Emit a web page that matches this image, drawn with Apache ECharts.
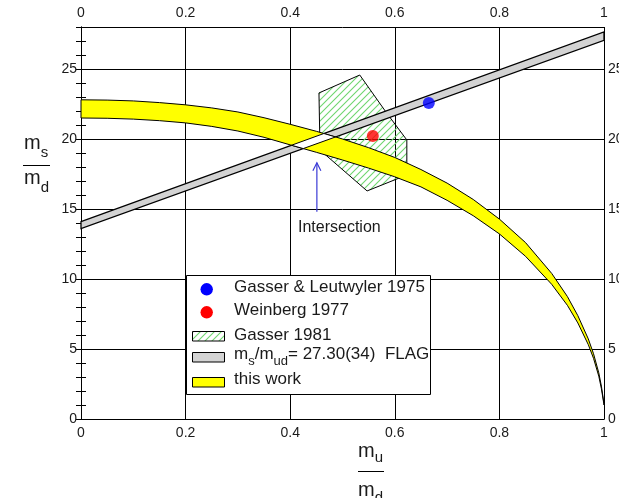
<!DOCTYPE html>
<html>
<head>
<meta charset="utf-8">
<script src="https://cdn.jsdelivr.net/npm/echarts@6/dist/echarts.min.js"></script>
<style>
html, body { margin: 0; padding: 0; background: #fff; }
#chart { width: 619px; height: 498px; }
</style>
</head>
<body>
<div id="chart"></div>
<script>
// Quark mass ratio plane: m_s/m_d against m_u/m_d

// "this work" band (upper and lower edge)
const ellipseX     = [0, 0.05, 0.1, 0.15, 0.2, 0.25, 0.3, 0.35, 0.4, 0.45, 0.5, 0.55, 0.6, 0.65, 0.7, 0.75, 0.8, 0.85, 0.9, 0.93, 0.95, 0.97, 0.98, 0.99, 0.995, 1.0];
const ellipseUpper = [22.80, 22.78, 22.72, 22.60, 22.44, 22.22, 21.93, 21.52, 21.05, 20.55, 20.00, 19.38, 18.68, 17.82, 16.85, 15.68, 14.28, 12.60, 10.40, 8.75, 7.38, 5.72, 4.66, 3.30, 2.35, 1.10];
const ellipseLower = [21.50, 21.48, 21.42, 21.31, 21.15, 20.90, 20.57, 20.12, 19.58, 19.05, 18.50, 17.92, 17.30, 16.58, 15.62, 14.52, 13.22, 11.62, 9.62, 8.12, 6.86, 5.31, 4.33, 3.06, 2.17, 1.00];

// FLAG band m_s/m_ud = 27.30(34)
const flagX     = [0, 1];
const flagLower = [13.60, 27.05];
const flagUpper = [14.10, 27.65];

// Gasser 1981 region
const gasserX = [0.455, 0.533, 0.583, 0.623, 0.623, 0.547, 0.457];
const gasserY = [23.29, 24.57, 21.93, 19.93, 17.43, 16.29, 19.21];

// Single estimates
const leutwylerPoint = [0.665, 22.57];
const weinbergPoint  = [0.558, 20.21];

// Arrow marking the band crossing
const arrowX = 0.451;
const arrowFromY = 14.8;
const arrowToY = 18.3;
const arrowLabel = 'Intersection';
const arrowLabelPos = [0.494, 13.66];

// Axes
const xTickLabels = ['0', '0.2', '0.4', '0.6', '0.8', '1'];
const yTickLabels = ['0', '5', '10', '15', '20', '25'];

// Legend entries
const legendNames = ['Gasser & Leutwyler 1975', 'Weinberg 1977', 'Gasser 1981', '= 27.30(34)  FLAG', 'this work'];

const FONT = '"Liberation Sans", Arial, sans-serif';
const TXT = '#1a1a1a';

// diagonal hatch tile
const hatch = document.createElement('canvas');
hatch.width = 7; hatch.height = 7;
(function () {
  const c = hatch.getContext('2d');
  c.strokeStyle = '#6fd66f';
  c.lineWidth = 1.1;
  c.beginPath();
  c.moveTo(-1, 8); c.lineTo(8, -1);
  c.moveTo(-4, 4); c.lineTo(4, -4);
  c.moveTo(3, 11); c.lineTo(11, 3);
  c.stroke();
})();

const measureCtx = document.createElement('canvas').getContext('2d');
function textWidth(t, size) {
  measureCtx.font = size + 'px ' + FONT;
  return measureCtx.measureText(t).width;
}

function bandRenderer(xs, top, bottom, fill, lw) {
  return function (params, api) {
    const pts = [];
    for (let i = 0; i < xs.length; i++) pts.push(api.coord([xs[i], top[i]]));
    for (let i = xs.length - 1; i >= 0; i--) pts.push(api.coord([xs[i], bottom[i]]));
    return { type: 'polygon', shape: { points: pts }, style: { fill: fill, stroke: '#000', lineWidth: lw } };
  };
}

// where a piecewise-linear curve meets the straight line y = a + b x
function crossing(xs, ys, a, b) {
  for (let i = 0; i < xs.length - 1; i++) {
    const f0 = ys[i] - (a + b * xs[i]);
    const f1 = ys[i + 1] - (a + b * xs[i + 1]);
    if (f0 === 0) return [xs[i], ys[i]];
    if (f0 * f1 < 0) {
      const t = f0 / (f0 - f1);
      const x = xs[i] + t * (xs[i + 1] - xs[i]);
      return [x, a + b * x];
    }
  }
  return null;
}
function lineOf(xs, ys) {
  const b = (ys[1] - ys[0]) / (xs[1] - xs[0]);
  return [ys[0] - b * xs[0], b];
}

function lensRenderer(params, api) {
  const gl = lineOf(flagX, flagLower);
  const gu = lineOf(flagX, flagUpper);
  const A = crossing(ellipseX, ellipseLower, gl[0], gl[1]);
  const B = crossing(ellipseX, ellipseUpper, gl[0], gl[1]);
  const C = crossing(ellipseX, ellipseUpper, gu[0], gu[1]);
  const D = crossing(ellipseX, ellipseLower, gu[0], gu[1]);
  if (!A || !B || !C || !D) return null;
  return {
    type: 'polygon',
    shape: { points: [A, B, C, D].map(p => api.coord(p)) },
    style: { fill: '#fff', stroke: '#000', lineWidth: 1 }
  };
}

function arrowRenderer(params, api) {
  const p0 = api.coord([arrowX, arrowFromY]);
  const p1 = api.coord([arrowX, arrowToY]);
  const lp = api.coord(arrowLabelPos);
  const col = '#3a3ad6';
  return {
    type: 'group',
    children: [
      { type: 'line', shape: { x1: p0[0], y1: p0[1], x2: p1[0], y2: p1[1] }, style: { stroke: col, lineWidth: 1.2 } },
      { type: 'polyline', shape: { points: [[p1[0] - 4, p1[1] + 8], [p1[0], p1[1]], [p1[0] + 4, p1[1] + 8]] }, style: { stroke: col, lineWidth: 1.2, fill: null } },
      { type: 'text', x: lp[0], y: lp[1], style: { text: arrowLabel, font: '16px ' + FONT, fill: TXT, align: 'center', verticalAlign: 'middle' } }
    ]
  };
}

// text with subscripts: parts = [[text, isSub], ...]
function subscripted(parts, x, yMain, big, small, drop, z) {
  const out = [];
  let cx = x;
  parts.forEach(p => {
    const size = p[1] ? small : big;
    out.push({
      type: 'text', x: cx, y: p[1] ? yMain + drop : yMain, z: z,
      style: { text: p[0], font: size + 'px ' + FONT, fill: TXT, align: 'left', verticalAlign: 'middle' }
    });
    cx += textWidth(p[0], size);
  });
  return out;
}

// legend block
const LZ = 100;
const LF = '17px ' + FONT;
const legendEls = [
  { type: 'rect', z: LZ, shape: { x: 186.5, y: 275.5, width: 244, height: 119 }, style: { fill: '#fff', stroke: '#000', lineWidth: 1 } },
  { type: 'circle', z: LZ, shape: { cx: 206.7, cy: 289.3, r: 6.2 }, style: { fill: '#0000ff' } },
  { type: 'circle', z: LZ, shape: { cx: 206.7, cy: 312.3, r: 6.2 }, style: { fill: '#ff0000' } },
  { type: 'rect', z: LZ, shape: { x: 192.5, y: 331.5, width: 32, height: 9.5 }, style: { fill: { image: hatch, repeat: 'repeat' }, stroke: '#000', lineWidth: 1 } },
  { type: 'rect', z: LZ, shape: { x: 192.5, y: 352.5, width: 32, height: 9.5 }, style: { fill: '#d3d3d3', stroke: '#000', lineWidth: 1 } },
  { type: 'rect', z: LZ, shape: { x: 192.5, y: 377.5, width: 32, height: 9.5 }, style: { fill: '#ffff00', stroke: '#000', lineWidth: 1 } },
  { type: 'text', z: LZ, x: 234, y: 287.5, style: { text: legendNames[0], font: LF, fill: TXT, align: 'left', verticalAlign: 'middle' } },
  { type: 'text', z: LZ, x: 234, y: 310.5, style: { text: legendNames[1], font: LF, fill: TXT, align: 'left', verticalAlign: 'middle' } },
  { type: 'text', z: LZ, x: 234, y: 335, style: { text: legendNames[2], font: LF, fill: TXT, align: 'left', verticalAlign: 'middle' } },
  { type: 'text', z: LZ, x: 234, y: 379.5, style: { text: legendNames[4], font: LF, fill: TXT, align: 'left', verticalAlign: 'middle' } }
].concat(subscripted([['m', false], ['s', true], ['/m', false], ['ud', true], [legendNames[3], false]], 234, 354.5, 17, 13, 7, LZ));

// axis titles drawn as fractions
const titleEls = []
  .concat(subscripted([['m', false], ['s', true]], 24, 143.5, 20, 15, 9, 10))
  .concat([{ type: 'line', z: 10, shape: { x1: 23, y1: 165.5, x2: 50, y2: 165.5 }, style: { stroke: '#000', lineWidth: 1 } }])
  .concat(subscripted([['m', false], ['d', true]], 24, 178.5, 20, 15, 9, 10))
  .concat(subscripted([['m', false], ['u', true]], 358, 451, 20, 15, 7, 10))
  .concat([{ type: 'line', z: 10, shape: { x1: 358, y1: 471.5, x2: 384, y2: 471.5 }, style: { stroke: '#000', lineWidth: 1 } }])
  .concat(subscripted([['m', false], ['d', true]], 358, 490.5, 20, 15, 7, 10));

const axisLabelStyle = { fontFamily: FONT, fontSize: 14, color: TXT };

function xAxisDef(pos) {
  return {
    type: 'value', position: pos, min: 0, max: 1, interval: 0.2,
    axisLine: { show: true, lineStyle: { color: '#000', width: 1 } },
    axisTick: { show: false },
    splitLine: { show: pos === 'bottom', lineStyle: { color: '#000', width: 1 } },
    axisLabel: Object.assign({ margin: 7, formatter: v => xTickLabels[Math.round(v * 5)] }, axisLabelStyle)
  };
}
function yTickAxis(pos) {
  return {
    type: 'value', position: pos, min: 0, max: 28, interval: 1,
    axisLine: { show: true, lineStyle: { color: '#000', width: 1 } },
    axisTick: { show: true, inside: true, length: 5, lineStyle: { color: '#000', width: 1 } },
    splitLine: { show: false },
    axisLabel: Object.assign({
      margin: 4,
      formatter: v => (v % 5 === 0 && v / 5 < yTickLabels.length) ? yTickLabels[v / 5] : ''
    }, axisLabelStyle)
  };
}

const chart = echarts.init(document.getElementById('chart'), null, { renderer: 'canvas' });
chart.setOption({
  animation: false,
  backgroundColor: '#fff',
  grid: { left: 81, right: 15, top: 27, bottom: 79, outerBoundsMode: 'none' },
  xAxis: [xAxisDef('bottom'), xAxisDef('top')],
  yAxis: [
    yTickAxis('left'),
    yTickAxis('right'),
    {
      type: 'value', position: 'left', min: 0, max: 28, interval: 5,
      axisLine: { show: false }, axisTick: { show: false }, axisLabel: { show: false },
      splitLine: { show: true, lineStyle: { color: '#000', width: 1 } }
    }
  ],
  graphic: { elements: legendEls.concat(titleEls) },
  series: [
    { type: 'custom', name: 'Gasser 1981', silent: true, z: 2, data: [[0, 0]],
      renderItem: function (params, api) {
        return { type: 'polygon',
          shape: { points: gasserX.map((x, i) => api.coord([x, gasserY[i]])) },
          style: { fill: { image: hatch, repeat: 'repeat' }, stroke: '#000', lineWidth: 1 } };
      } },
    { type: 'custom', name: 'FLAG', silent: true, z: 3, data: [[0, 0]],
      renderItem: bandRenderer(flagX, flagUpper, flagLower, '#d3d3d3', 1.3) },
    { type: 'custom', name: 'this work', silent: true, z: 4, data: [[0, 0]],
      renderItem: bandRenderer(ellipseX, ellipseUpper, ellipseLower, '#ffff00', 1) },
    { type: 'custom', name: 'overlap', silent: true, z: 5, data: [[0, 0]], renderItem: lensRenderer },
    { type: 'scatter', name: 'Gasser & Leutwyler 1975', z: 6, symbolSize: 12,
      itemStyle: { color: '#0000ff' }, data: [leutwylerPoint] },
    { type: 'scatter', name: 'Weinberg 1977', z: 6, symbolSize: 12,
      itemStyle: { color: '#ff0000' }, data: [weinbergPoint] },
    { type: 'custom', name: 'arrow', silent: true, z: 6, data: [[0, 0]], renderItem: arrowRenderer }
  ]
});
</script>
</body>
</html>
